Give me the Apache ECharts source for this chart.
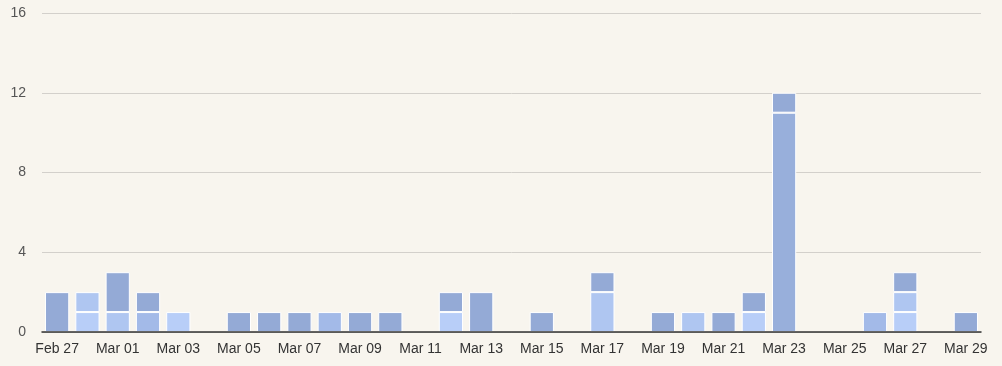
<!DOCTYPE html>
<html>
<head>
<meta charset="utf-8">
<script src="https://cdn.jsdelivr.net/npm/echarts@6/dist/echarts.min.js"></script>
<style>
html,body{margin:0;padding:0;background:#f8f5ee;}
#chart{width:1002px;height:366px;}
</style>
</head>
<body>
<div id="chart"></div>
<script>
const categories = ['Feb 27','Feb 28','Mar 01','Mar 02','Mar 03','Mar 04','Mar 05','Mar 06','Mar 07','Mar 08','Mar 09','Mar 10','Mar 11','Mar 12','Mar 13','Mar 14','Mar 15','Mar 16','Mar 17','Mar 18','Mar 19','Mar 20','Mar 21','Mar 22','Mar 23','Mar 24','Mar 25','Mar 26','Mar 27','Mar 28','Mar 29'];
// stacked bottom -> top
const seriesE = [0,1,0,0,1,0,0,0,0,0,0,0,0,1,0,0,0,0,0,0,0,0,0,1,0,0,0,0,1,0,0];
const seriesD = [0,1,1,0,0,0,0,0,0,0,0,0,0,0,0,0,0,0,2,0,0,1,0,0,0,0,0,0,1,0,0];
const seriesC = [0,0,0,1,0,0,0,0,0,1,0,0,0,0,0,0,0,0,0,0,0,0,0,0,0,0,0,1,0,0,0];
const seriesB = [0,0,0,0,0,0,0,0,0,0,0,0,0,0,0,0,0,0,0,0,0,0,0,0,11,0,0,0,0,0,0];
const seriesA = [2,0,2,1,0,0,1,1,1,0,1,1,0,1,2,0,1,0,1,0,1,0,1,1,1,0,0,0,1,0,1];
const yTicks = [0,4,8,12,16];

const chart = echarts.init(document.getElementById('chart'), null, {renderer:'canvas'});
const font = 'Liberation Sans, Arial, sans-serif';
function mk(name, data, color){
  return {
    name, type:'bar', stack:'total', data: data.map(v => v === 0 ? '-' : v),
    barCategoryGap:'20%',
    itemStyle:{color, borderColor:'#ffffff', borderWidth:1},
    emphasis:{disabled:true}
  };
}
chart.setOption({
  backgroundColor:'#f8f5ee',
  animation:false,
  grid:{left:42, right:21, top:13, bottom:34, containLabel:false},
  xAxis:{
    type:'category', data:categories, z:10,
    axisLine:{lineStyle:{color:'#333333', width:1.5}},
    axisTick:{show:false},
    axisLabel:{interval:1, color:'#333333', fontSize:14, fontFamily:font, margin:10}
  },
  yAxis:{
    type:'value', min:yTicks[0], max:yTicks[yTicks.length-1], interval:4,
    axisLine:{show:false}, axisTick:{show:false},
    splitLine:{lineStyle:{color:'#d3d0cb', width:1}},
    axisLabel:{color:'#555555', fontSize:14, fontFamily:font, margin:16}
  },
  series:[
    mk('E', seriesE, '#b8cef8'),
    mk('D', seriesD, '#afc6f1'),
    mk('C', seriesC, '#a3bae8'),
    mk('B', seriesB, '#98afdb'),
    mk('A', seriesA, '#94aad6')
  ]
});
</script>
</body>
</html>
